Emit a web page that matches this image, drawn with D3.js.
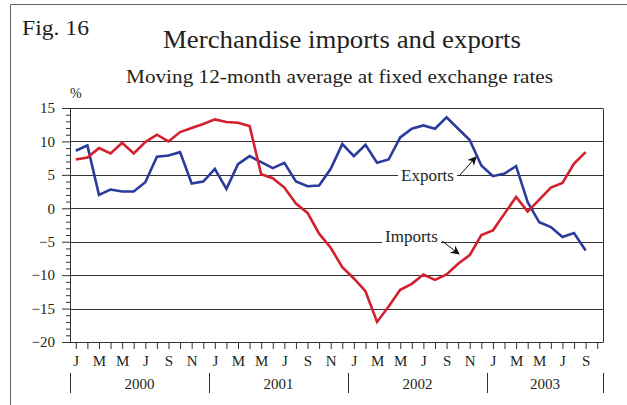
<!DOCTYPE html>
<html>
<head>
<meta charset="utf-8">
<script src="https://cdn.jsdelivr.net/npm/d3@7"></script>
<style>
  body { margin: 0; background: #fff; }
  text { font-family: "Liberation Serif", "Times New Roman", serif; fill: #231f20; }
</style>
</head>
<body>
<svg id="chart" width="627" height="405"></svg>
<script>
// Monthly data, Jan 2000 - Sep 2003 (percent, moving 12-month average)
const monthLetters = ["J", "F", "M", "A", "M", "J", "J", "A", "S", "O", "N", "D"];
const years = ["2000", "2001", "2002", "2003"];
const yTicks = [15, 10, 5, 0, -5, -10, -15, -20];

const exportsData = [
  8.6, 9.4, 2.0, 2.8, 2.5, 2.5, 3.9, 7.7, 7.9, 8.4, 3.7, 4.0,
  5.9, 2.9, 6.6, 7.8, 6.9, 6.0, 6.8, 4.0, 3.3, 3.4, 5.9, 9.6,
  7.8, 9.5, 6.8, 7.3, 10.6, 11.9, 12.4, 11.9, 13.6, 11.9, 10.2, 6.4,
  4.8, 5.2, 6.3, 0.9, -2.1, -2.8, -4.3, -3.7, -6.3
];
const importsData = [
  7.3, 7.6, 9.0, 8.2, 9.8, 8.2, 9.9, 11.0, 10.0, 11.4, 12.0, 12.6,
  13.3, 12.9, 12.8, 12.3, 5.1, 4.5, 3.1, 0.7, -0.7, -3.8, -5.9, -8.8,
  -10.5, -12.4, -17.0, -14.7, -12.2, -11.3, -9.9, -10.7, -9.9, -8.3, -7.0, -4.0,
  -3.3, -0.8, 1.7, -0.5, 1.3, 3.1, 3.8, 6.7, 8.4
];

const svg = d3.select("#chart");
const margin = { top: 108, right: 24, bottom: 63, left: 70 };
const width = 627 - margin.left - margin.right;   // 533
const height = 405 - margin.top - margin.bottom;  // 234

// outer frame (top and left edges)
svg.append("path")
  .attr("d", "M10.5,405 V4.5 H627")
  .attr("fill", "none")
  .attr("stroke", "#666")
  .attr("stroke-width", 1);

// titles (the original type is slightly stretched, so fix the widths)
svg.append("text").attr("x", 22).attr("y", 35).attr("font-size", 20)
  .attr("textLength", 67).attr("lengthAdjust", "spacingAndGlyphs")
  .text("Fig. 16");
svg.append("text").attr("x", 163).attr("y", 48)
  .attr("font-size", 25.5)
  .attr("textLength", 358).attr("lengthAdjust", "spacingAndGlyphs")
  .text("Merchandise imports and exports");
svg.append("text").attr("x", 126).attr("y", 83)
  .attr("font-size", 19.5)
  .attr("textLength", 427).attr("lengthAdjust", "spacingAndGlyphs")
  .text("Moving 12-month average at fixed exchange rates");
svg.append("text").attr("x", 70).attr("y", 98).attr("font-size", 14).text("%");

const g = svg.append("g").attr("transform", `translate(${margin.left},${margin.top})`);

const nMonths = 46; // Jan 2000 - Oct 2003 slots
const x = d3.scalePoint()
  .domain(d3.range(nMonths))
  .range([0, width])
  .padding(0.5);
const step = x.step();

const y = d3.scaleLinear()
  .domain([-20, 15])
  .range([height, 0]);

// gridlines
g.selectAll(".grid")
  .data(yTicks)
  .enter().append("line")
  .attr("x1", 0).attr("x2", width)
  .attr("y1", d => Math.round(y(d)) + 0.5).attr("y2", d => Math.round(y(d)) + 0.5)
  .attr("stroke", "#333").attr("stroke-width", 1);

// right border
g.append("line")
  .attr("x1", width + 0.5).attr("x2", width + 0.5)
  .attr("y1", Math.round(y(15)) + 0.5).attr("y2", Math.round(y(-20)) + 0.5)
  .attr("stroke", "#333");

// y axis: minor ticks every unit, major every 5
const yAxisMinor = d3.axisLeft(y)
  .tickValues(d3.range(-20, 16, 1).filter(v => v % 5 !== 0))
  .tickSize(4).tickFormat("");
g.append("g").attr("class", "y-minor").call(yAxisMinor);

const yAxis = d3.axisLeft(y)
  .tickValues(yTicks)
  .tickSize(8).tickPadding(7);
g.append("g").attr("class", "y-axis").call(yAxis);

g.selectAll(".y-minor .domain").remove();
g.selectAll(".y-axis .domain").attr("stroke", "#333").attr("d", `M0.5,0V${height}`);
g.selectAll(".y-axis line, .y-minor line").attr("stroke", "#333");
g.selectAll(".y-axis text")
  .attr("font-family", "Liberation Serif")
  .attr("font-size", 15)
  .attr("fill", "#231f20");

// x axis: tick at each month, letter every other month
const xAxis = d3.axisBottom(x)
  .tickSize(7).tickPadding(6)
  .tickFormat(i => (i % 2 === 0 && i < 45) ? monthLetters[i % 12] : "");
g.append("g").attr("class", "x-axis")
  .attr("transform", `translate(0,${height})`)
  .call(xAxis);
g.selectAll(".x-axis .domain").attr("stroke", "#333").attr("d", `M0,0.5H${width}`);
g.selectAll(".x-axis line").attr("stroke", "#333");
g.selectAll(".x-axis text")
  .attr("font-family", "Liberation Serif")
  .attr("font-size", 15)
  .attr("fill", "#231f20");

// year separators and labels
const yearEdges = [0, 12, 24, 36].map(i => x(i) - step / 2).concat([width]);
g.selectAll(".year-sep")
  .data(yearEdges)
  .enter().append("line")
  .attr("x1", d => Math.round(d) + 0.5).attr("x2", d => Math.round(d) + 0.5)
  .attr("y1", height + 31).attr("y2", height + 51)
  .attr("stroke", "#333");
g.selectAll(".year-label")
  .data(years)
  .enter().append("text")
  .attr("x", (d, i) => (yearEdges[i] + yearEdges[i + 1]) / 2)
  .attr("y", height + 47)
  .attr("text-anchor", "middle")
  .attr("font-size", 15)
  .text(d => d);

// series lines
const line = d3.line()
  .x((d, i) => x(i))
  .y(d => y(d));

g.append("path").datum(exportsData)
  .attr("fill", "none").attr("stroke", "#2b3b9b").attr("stroke-width", 2.6)
  .attr("stroke-linejoin", "miter")
  .attr("d", line);

g.append("path").datum(importsData)
  .attr("fill", "none").attr("stroke", "#d3202f").attr("stroke-width", 2.6)
  .attr("stroke-linejoin", "miter")
  .attr("d", line);

// arrow marker
svg.append("defs").append("marker")
  .attr("id", "arrow")
  .attr("viewBox", "0 0 10 10")
  .attr("refX", 9).attr("refY", 5)
  .attr("markerWidth", 11).attr("markerHeight", 9)
  .attr("markerUnits", "userSpaceOnUse")
  .attr("orient", "auto")
  .append("path")
  .attr("d", "M0,0 L10,5 L0,10 L3,5 Z")
  .attr("fill", "#111");

// series labels with white background over the gridline
function seriesLabel(text, tx, ty, a0, a1) {
  const t = svg.append("text")
    .attr("x", tx).attr("y", ty)
    .attr("font-size", 17)
    .text(text);
  const bb = t.node().getBBox();
  svg.insert("rect", function () { return t.node(); })
    .attr("x", bb.x - 3).attr("y", bb.y + 2)
    .attr("width", bb.width + 6).attr("height", bb.height - 4)
    .attr("fill", "#fff");
  svg.append("line")
    .attr("x1", a0[0]).attr("y1", a0[1])
    .attr("x2", a1[0]).attr("y2", a1[1])
    .attr("stroke", "#111").attr("stroke-width", 1)
    .attr("marker-end", "url(#arrow)");
}

seriesLabel("Exports", 401, 181, [459, 176], [476, 157]);
seriesLabel("Imports", 385, 242, [442, 241], [459, 254]);
</script>
</body>
</html>
